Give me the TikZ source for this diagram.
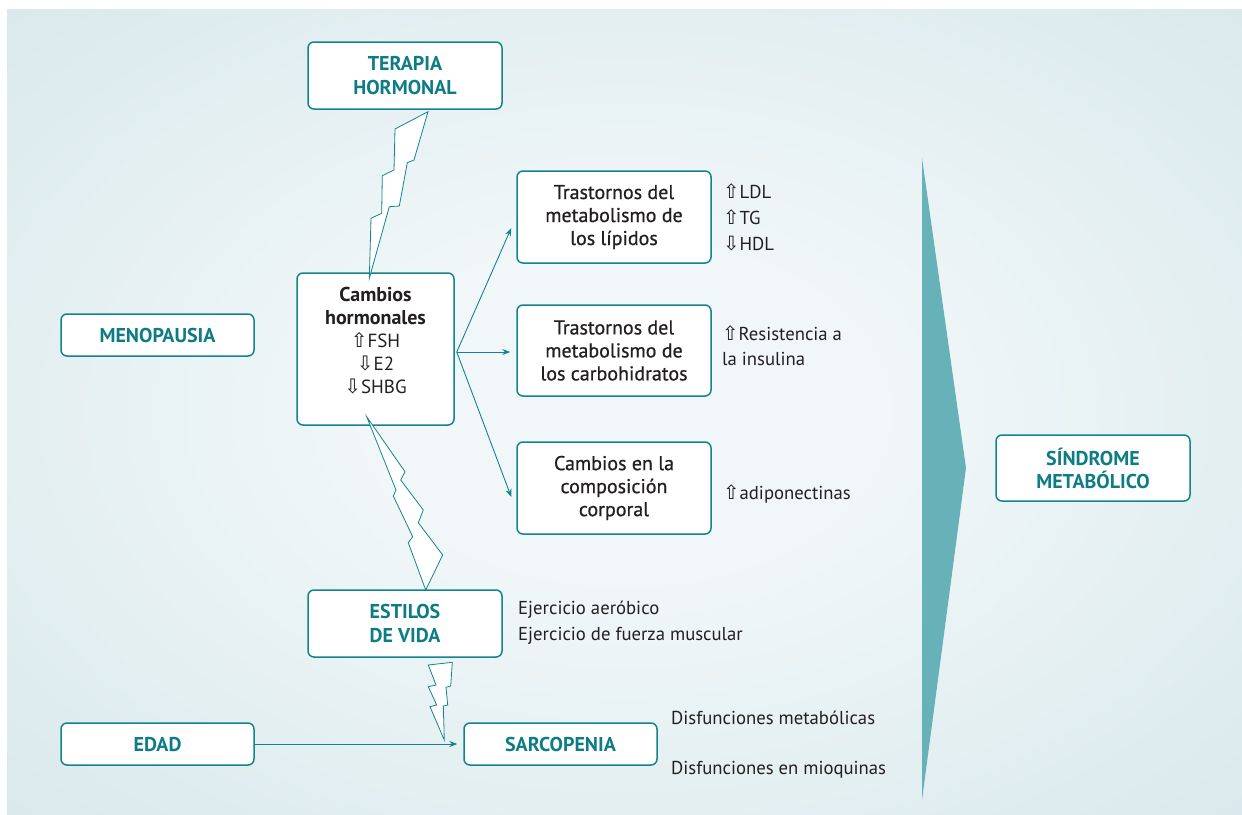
\documentclass[tikz,border=0pt]{standalone}
\usepackage{fontspec}
\setmainfont{PT Sans}
\newfontfamily\semib[FakeBold=0.7]{PT Sans}
\newfontfamily\arrfont{DejaVu Sans}
\usetikzlibrary{arrows.meta,calc}
\definecolor{tealc}{HTML}{12848B}
\definecolor{tealtxt}{HTML}{0E7C84}
\definecolor{darktxt}{HTML}{231F20}
\definecolor{trifill}{HTML}{67B1B9}
\definecolor{bgedge}{HTML}{CCE1E6}
\definecolor{bgmid}{HTML}{F1F7F8}
\pgfdeclareradialshading{bgshade}{\pgfpoint{0bp}{0bp}}{color(0bp)=(bgmid); color(10bp)=(bgmid); color(50bp)=(bgedge); color(75bp)=(bgedge)}
\newcommand{\arrup}{{\arrfont\scalebox{1.05}{\char"21E7}}}
\newcommand{\arrdn}{{\arrfont\scalebox{1.05}{\char"21E9}}}
\newcommand{\bigbf}[1]{{\bfseries\fontsize{20}{23}\selectfont #1}}
\tikzset{
  box/.style={draw=tealc, line width=1.5pt, fill=white, rounded corners=6pt, inner sep=0pt,
    align=center, text=tealtxt, font=\bfseries\fontsize{20}{24}\selectfont},
  dbox/.style={box, text=darktxt, font=\semib\fontsize{20}{23}\selectfont},
  note/.style={anchor=west, inner sep=0pt, align=left, text=darktxt, font=\fontsize{18.7}{26}\selectfont},
  conn/.style={draw=tealc, line width=0.9pt, -{Stealth[length=8pt,width=6pt]}},
  bolt/.style={draw=tealc, fill=white, line width=0.8pt, line join=miter},
}
\begin{document}
\begin{tikzpicture}[x=1pt,y=-1pt]
\useasboundingbox (0,0) rectangle (1242,814);
\fill[white] (0,0) rectangle (1242,814);
\shade[shading=bgshade] (7,9) rectangle (1242,814);
\fill[trifill] (922,158) -- (966,468) -- (922,800) -- cycle;

% boxes
\node[box, minimum width=194pt, minimum height=67pt] (ter) at (405,75.5) {TERAPIA\\HORMONAL};
\node[box, minimum width=193pt, minimum height=42pt] (men) at (157.5,335) {MENOPAUSIA};
\node[box, minimum width=193pt, minimum height=42pt] (edad) at (157.5,744) {EDAD};
\node[box, minimum width=194pt, minimum height=67pt] (est) at (405,623.5) {ESTILOS\\DE VIDA};
\node[box, minimum width=193pt, minimum height=42pt] (sar) at (560.5,744) {SARCOPENIA};
\node[box, minimum width=194pt, minimum height=66pt, font=\bfseries\fontsize{20}{23}\selectfont] (sm) at (1093,468) {SÍNDROME\\METABÓLICO};
\node[dbox, minimum width=157pt, minimum height=152pt] (ch) at (375.5,349) {};
\node[inner sep=0pt, align=center, text=darktxt, font=\fontsize{19}{23}\selectfont] (cht) at (375.5,341)
  {\bigbf{Cambios}\\\bigbf{hormonales}\\\arrup FSH\\\arrdn E2\\\arrdn SHBG};
\node[dbox, minimum width=194pt, minimum height=92pt] (lip) at (614,217) {Trastornos del\\metabolismo de\\los lípidos};
\node[dbox, minimum width=194pt, minimum height=91pt] (car) at (614,350.5) {Trastornos del\\metabolismo de\\los carbohidratos};
\node[dbox, minimum width=194pt, minimum height=92pt] (comp) at (614,488) {Cambios en la\\composición\\corporal};

% notes
\node[note] (n1) at (723,217) {\arrup LDL\\\arrup TG\\\arrdn HDL};
\node[note, font=\fontsize{18.7}{25}\selectfont] (n2) at (722,345.5) {\arrup Resistencia a\\la insulina};
\node[note] (n3) at (723,494) {\arrup adiponectinas};
\node[note] (n4) at (518,623) {Ejercicio aeróbico\\Ejercicio de fuerza muscular};
\node[note] (n5) at (671,718) {Disfunciones metabólicas};
\node[note] (n6) at (671,770) {Disfunciones en mioquinas};

% connectors
\coordinate (chr) at ($(ch.east)+(2,3)$);
\draw[conn] (chr) -- ($(lip.west)+(-5,11)$);
\draw[conn] (chr) -- ($(car.west)+(-6,1.5)$);
\draw[conn] (chr) -- ($(comp.west)+(-5,9)$);
\draw[conn] (edad.east) -- ($(sar.west)+(-6,0)$);

% lightning bolts
\draw[bolt] (428,111.7) -- (395,129) -- (394,170) -- (382.3,175.7) -- (381.7,213.3) -- (371,218.3)
  -- (369.3,278.3) -- (389.3,206.7) -- (399.3,206) -- (407.3,162.7) -- (414,160) -- cycle;
\draw[bolt] (366.7,416.7) -- (405,471.7) -- (400.7,480) -- (423.3,510) -- (418.3,522.7) -- (442.7,555)
  -- (425.7,590) -- (408.3,542.7) -- (412.7,536.7) -- (393.3,496) -- (396,490) -- cycle;
\draw[bolt] (428.3,665) -- (452.3,662.3) -- (450.7,686) -- (446,687.3) -- (447.7,705) -- (443.3,706)
  -- (444.3,740) -- (430,706.7) -- (436.7,705) -- (428.3,686.7) -- (436,685) -- cycle;
\end{tikzpicture}
\end{document}
